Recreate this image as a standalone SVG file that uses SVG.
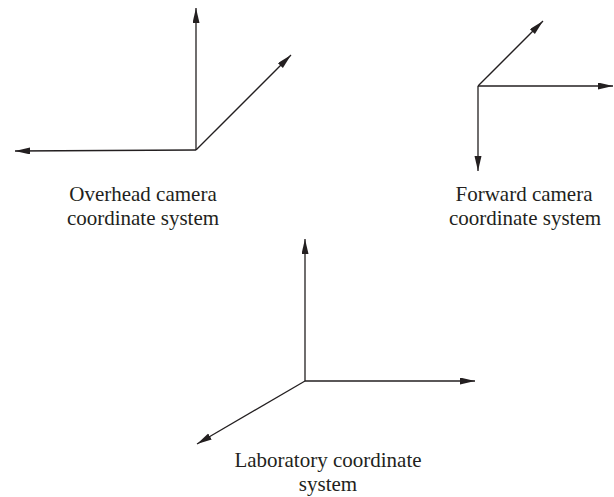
<svg xmlns="http://www.w3.org/2000/svg" width="614" height="497" viewBox="0 0 614 497">
  <style>
    .axis { stroke: #231f20; stroke-width: 1.3; fill: none; marker-end: url(#head); }
    .label { font-family: "Liberation Serif", "Times New Roman", serif; font-size: 21px; fill: #231f20; text-anchor: middle; }
  </style>
  <defs>
    <marker id="head" markerUnits="userSpaceOnUse" markerWidth="16" markerHeight="8" refX="15" refY="3.5" orient="auto">
      <path d="M0,0 L15,3.5 L0,7 Z" fill="#231f20"/>
    </marker>
  </defs>
  <rect width="614" height="497" fill="#ffffff"/>

  <!-- axes of each coordinate frame -->
  <g id="connectors">
    <!-- overhead camera frame, origin (196,150) -->
    <line class="axis" x1="196" y1="150" x2="196" y2="8"/>
    <line class="axis" x1="196" y1="150" x2="291" y2="55"/>
    <line class="axis" x1="196" y1="150" x2="15" y2="151"/>
    <!-- forward camera frame, origin (478,86) -->
    <line class="axis" x1="478" y1="86" x2="543" y2="21"/>
    <line class="axis" x1="478" y1="86" x2="613" y2="86"/>
    <line class="axis" x1="478" y1="86" x2="478" y2="171"/>
    <!-- laboratory frame, origin (305,381) -->
    <line class="axis" x1="305" y1="381" x2="305" y2="239"/>
    <line class="axis" x1="305" y1="381" x2="475" y2="381"/>
    <line class="axis" x1="305" y1="381" x2="197" y2="444"/>
  </g>

  <g id="overhead-label">
    <text class="label" x="143" y="201">Overhead camera</text>
    <text class="label" x="143" y="225">coordinate system</text>
  </g>
  <g id="forward-label">
    <text class="label" x="524" y="201">Forward camera</text>
    <text class="label" x="525" y="225">coordinate system</text>
  </g>
  <g id="laboratory-label">
    <text class="label" x="328" y="467">Laboratory coordinate</text>
    <text class="label" x="328" y="491">system</text>
  </g>
</svg>
